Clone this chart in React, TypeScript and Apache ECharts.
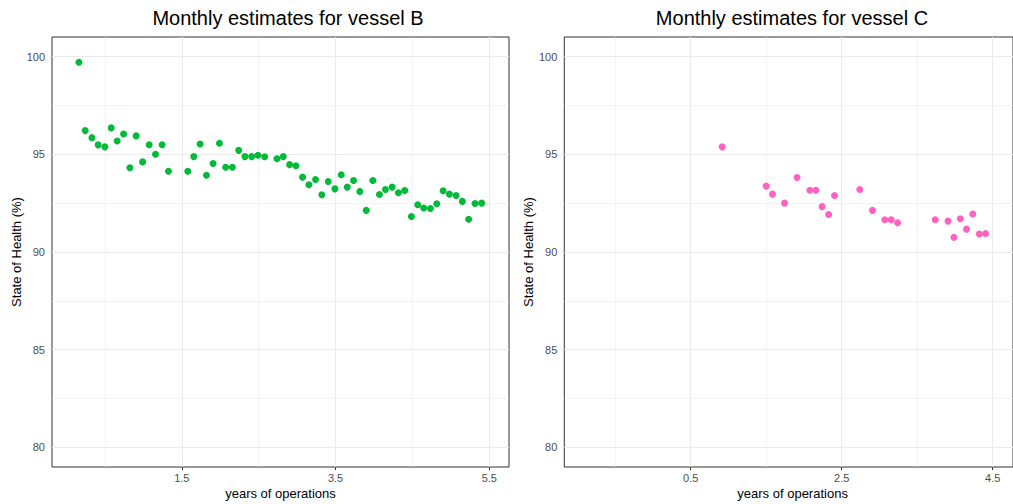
import React, { useEffect, useRef } from "react";
import * as echarts from "echarts";

// Vessel B monthly estimates (years of operations, State of Health %)
const vesselBYears = [
  0.162, 0.244, 0.331, 0.413, 0.5, 0.582, 0.66, 0.743, 0.825, 0.907, 0.99, 1.076, 1.158, 1.244, 1.327,
  1.578, 1.656, 1.738, 1.821, 1.907, 1.99, 2.071, 2.158, 2.24, 2.322, 2.409, 2.491, 2.578,
  2.738, 2.82, 2.903, 2.985, 3.071, 3.153, 3.24, 3.322, 3.405, 3.491, 3.574, 3.652, 3.734, 3.816,
  3.899, 3.985, 4.071, 4.149, 4.236, 4.318, 4.4, 4.487, 4.569, 4.647, 4.734, 4.816, 4.899, 4.981,
  5.068, 5.149, 5.231, 5.314, 5.4,
];
const vesselBSoh = [
  99.71, 96.21, 95.85, 95.48, 95.38, 96.35, 95.68, 96.04, 94.31, 95.94, 94.61, 95.49, 95.0, 95.49, 94.13,
  94.13, 94.88, 95.53, 93.93, 94.53, 95.56, 94.34, 94.34, 95.2, 94.88, 94.88, 94.95, 94.87,
  94.77, 94.88, 94.47, 94.41, 93.83, 93.44, 93.71, 92.93, 93.61, 93.23, 93.95, 93.32, 93.66, 93.1,
  92.13, 93.66, 92.94, 93.2, 93.32, 93.03, 93.15, 91.82, 92.42, 92.25, 92.23, 92.47, 93.13, 92.96,
  92.89, 92.59, 91.68, 92.48, 92.5,
];

// Vessel C monthly estimates
const vesselCYears = [
  0.916, 1.5, 1.583, 1.743, 1.908, 2.077, 2.158, 2.24, 2.327, 2.405, 2.739, 2.908, 3.071, 3.155, 3.24,
  3.739, 3.908, 3.986, 4.071, 4.154, 4.236, 4.323, 4.405,
];
const vesselCSoh = [
  95.38, 93.37, 92.96, 92.5, 93.81, 93.16, 93.16, 92.32, 91.92, 92.89, 93.2, 92.13, 91.65, 91.65, 91.5,
  91.65, 91.58, 90.75, 91.7, 91.17, 91.94, 90.92, 90.95,
];

// Axis breaks
const yMajorTicks = [80, 85, 90, 95, 100];
const yMinorTicks = [82.5, 87.5, 92.5, 97.5];
const xMajorTicksB = [1.5, 3.5, 5.5];
const xMinorTicksB = [0.5, 2.5, 4.5];
const xMajorTicksC = [0.5, 2.5, 4.5];
const xMinorTicksC = [-0.5, 1.5, 3.5];

const titles = ["Monthly estimates for vessel B", "Monthly estimates for vessel C"];
const xTitle = "years of operations";
const yTitle = "State of Health (%)";

const FONT = "'Liberation Sans', Arial, Helvetica, sans-serif";
const GRID_COLOR = "#EBEBEB";
const LABEL_COLOR = "#4D4D4D";

function gridLines(xMajor: number[], xMinor: number[]) {
  const major = { color: GRID_COLOR, width: 1, type: "solid" as const };
  const minor = { color: GRID_COLOR, width: 0.6, type: "solid" as const };
  return [
    ...yMajorTicks.map((v) => ({ yAxis: v, lineStyle: major })),
    ...yMinorTicks.map((v) => ({ yAxis: v, lineStyle: minor })),
    ...xMajor.map((v) => ({ xAxis: v, lineStyle: major })),
    ...xMinor.map((v) => ({ xAxis: v, lineStyle: minor })),
  ];
}

export default function App() {
  const ref = useRef<HTMLDivElement>(null);

  useEffect(() => {
    document.body.style.margin = "0";
    if (!ref.current) return;
    const chart = echarts.init(ref.current, undefined, { renderer: "svg" });

    const labelStyle = (margin: number, ticks: number[]) => ({
      customValues: ticks,
      color: () => LABEL_COLOR,
      textBorderWidth: 0,
      fontSize: 11,
      fontFamily: FONT,
      margin,
      formatter: (v: number) => String(v),
    });

    const axisCommonX = (gridIndex: number, min: number, max: number, ticks: number[]) => ({
      type: "value" as const,
      gridIndex,
      min,
      max,
      axisLine: { show: false },
      splitLine: { show: false },
      axisTick: { show: true, length: 3, customValues: ticks, lineStyle: { color: "#333333", width: 1 } },
      axisLabel: labelStyle(5, ticks),
    });
    const axisCommonY = (gridIndex: number) => ({
      type: "value" as const,
      gridIndex,
      min: 79,
      max: 101,
      axisLine: { show: false },
      splitLine: { show: false },
      axisTick: { show: true, length: 3, customValues: yMajorTicks, lineStyle: { color: "#333333", width: 1 } },
      axisLabel: labelStyle(7, yMajorTicks),
    });

    const markLineOf = (xMajor: number[], xMinor: number[]) => ({
      silent: true,
      z: 1,
      zlevel: 0,
      symbol: ["none", "none"],
      label: { show: false },
      emphasis: { disabled: true },
      data: gridLines(xMajor, xMinor),
    });

    chart.setOption({
      animation: false,
      backgroundColor: "#ffffff",
      grid: [
        { left: 52, top: 37, width: 457, height: 430, show: true, borderColor: "#333333", borderWidth: 1, backgroundColor: "#ffffff" },
        { left: 564.3, top: 37, width: 457, height: 430, show: true, borderColor: "#333333", borderWidth: 1, backgroundColor: "#ffffff" },
      ],
      xAxis: [axisCommonX(0, -0.188, 5.756, xMajorTicksB), axisCommonX(1, -1.175, 4.769, xMajorTicksC)],
      yAxis: [axisCommonY(0), axisCommonY(1)],
      series: [
        {
          type: "line",
          xAxisIndex: 0,
          yAxisIndex: 0,
          data: [],
          z: 1,
          silent: true,
          markLine: markLineOf(xMajorTicksB, xMinorTicksB),
        },
        {
          type: "line",
          xAxisIndex: 1,
          yAxisIndex: 1,
          data: [],
          z: 1,
          silent: true,
          markLine: markLineOf(xMajorTicksC, xMinorTicksC),
        },
        {
          type: "scatter",
          name: "vessel B",
          xAxisIndex: 0,
          yAxisIndex: 0,
          z: 10,
          symbolSize: 7,
          itemStyle: { color: "#00BA38", opacity: 1 },
          data: vesselBYears.map((x, i) => [x, vesselBSoh[i]]),
        },
        {
          type: "scatter",
          name: "vessel C",
          xAxisIndex: 1,
          yAxisIndex: 1,
          z: 10,
          symbolSize: 7,
          itemStyle: { color: "#FF61C3", opacity: 1 },
          data: vesselCYears.map((x, i) => [x, vesselCSoh[i]]),
        },
      ],
      graphic: [
        { type: "text", x: 288, y: 18, style: { text: titles[0], fill: "#000", font: `20px ${FONT}`, textAlign: "center", textVerticalAlign: "middle" } },
        { type: "text", x: 792, y: 18, style: { text: titles[1], fill: "#000", font: `20px ${FONT}`, textAlign: "center", textVerticalAlign: "middle" } },
        { type: "text", x: 280.5, y: 493, style: { text: xTitle, fill: "#000", font: `13px ${FONT}`, textAlign: "center", textVerticalAlign: "middle" } },
        { type: "text", x: 792.6, y: 493, style: { text: xTitle, fill: "#000", font: `13px ${FONT}`, textAlign: "center", textVerticalAlign: "middle" } },
        { type: "text", x: 16.5, y: 252, rotation: Math.PI / 2, style: { text: yTitle, fill: "#000", font: `13px ${FONT}`, textAlign: "center", textVerticalAlign: "middle" } },
        { type: "text", x: 528, y: 252, rotation: Math.PI / 2, style: { text: yTitle, fill: "#000", font: `13px ${FONT}`, textAlign: "center", textVerticalAlign: "middle" } },
      ],
    });

    return () => chart.dispose();
  }, []);

  return <div ref={ref} style={{ width: 1013, height: 504 }} />;
}
